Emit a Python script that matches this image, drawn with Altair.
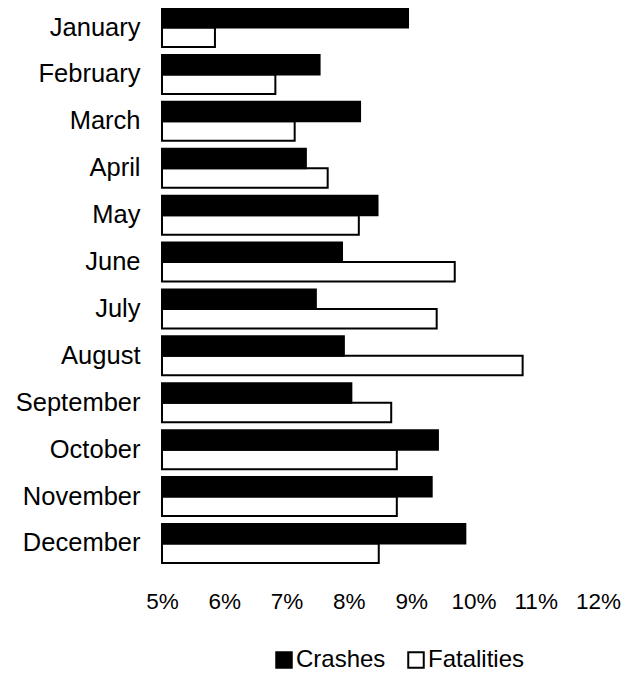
import altair as alt
import pandas as pd

months = ["January", "February", "March", "April", "May", "June", "July",
          "August", "September", "October", "November", "December"]
crashes = [8.95, 7.53, 8.18, 7.31, 8.46, 7.89, 7.47, 7.92, 8.04, 9.43, 9.33, 9.87]
fatalities = [5.85, 6.82, 7.13, 7.66, 8.16, 9.70, 9.41, 10.79, 8.68, 8.77, 8.77, 8.48]
series = ["Crashes", "Fatalities"]
ticks = [0.05, 0.06, 0.07, 0.08, 0.09, 0.10, 0.11, 0.12]

rows = []
# fatalities first so the crash bars are drawn on top
for m, v in zip(months, fatalities):
    rows.append({"month": m, "series": "Fatalities", "value": v / 100})
for m, v in zip(months, crashes):
    rows.append({"month": m, "series": "Crashes", "value": v / 100})
df = pd.DataFrame(rows)

FONT = "Liberation Sans"

chart = alt.Chart(df).mark_bar(strokeWidth=2, stroke="black").encode(
    y=alt.Y("month:N", sort=months, title=None,
            scale=alt.Scale(paddingInner=0.168, paddingOuter=0),
            axis=alt.Axis(ticks=False, domain=False, grid=False, labelPadding=22,
                          labelFontSize=25.5, labelFont=FONT, labelColor="black")),
    yOffset=alt.YOffset("series:N", sort=series,
                        scale=alt.Scale(paddingInner=0, paddingOuter=0)),
    x=alt.X("value:Q", title=None,
            scale=alt.Scale(domain=[0.05, 0.12], zero=False, nice=False),
            axis=alt.Axis(values=ticks, format=".0%", ticks=False, tickSize=0,
                          domain=False, grid=False, labelPadding=27,
                          labelFontSize=22.5, labelFont=FONT, labelColor="black",
                          labelFlush=False)),
    x2=alt.datum(0.05),
    fill=alt.Fill("series:N",
                  scale=alt.Scale(domain=series, range=["black", "white"]),
                  legend=alt.Legend(title=None, orient="none", direction="horizontal",
                                    legendX=110, legendY=640,
                                    symbolType="square", symbolSize=240,
                                    symbolStrokeColor="black", symbolStrokeWidth=2,
                                    labelFontSize=24, labelFont=FONT, labelColor="black",
                                    labelOffset=0, columnPadding=18)),
).properties(
    width=436,
    height=555,
    autosize=alt.AutoSizeParams(type="none"),
    padding={"left": 154, "top": 0, "right": 23, "bottom": 108},
).configure_view(stroke=None)

chart.save("out.html", embed_options={"renderer": "svg", "actions": False})
